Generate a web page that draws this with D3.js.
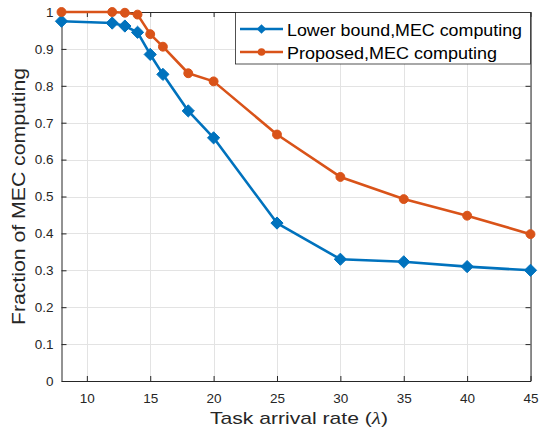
<!DOCTYPE html>
<html>
<head>
<meta charset="utf-8">
<script src="https://cdn.jsdelivr.net/npm/d3@7"></script>
<style>
  html, body { margin: 0; padding: 0; background: #fff; }
  svg { display: block; font-family: "Liberation Sans", Arial, Helvetica, sans-serif; }
</style>
</head>
<body>
<svg id="chart" width="539" height="433"></svg>
<script>
// Task arrival rates and the fraction of tasks computed at the MEC server
const arrivalRates = [8, 12, 13, 14, 15, 16, 18, 20, 25, 30, 35, 40, 45];
const lowerBound   = [0.975, 0.970, 0.962, 0.945, 0.885, 0.831, 0.732, 0.659, 0.428, 0.330, 0.323, 0.310, 0.300];
const proposed     = [1.000, 1.000, 0.998, 0.993, 0.940, 0.906, 0.834, 0.812, 0.668, 0.553, 0.493, 0.448, 0.398];
const xTicks = [10, 15, 20, 25, 30, 35, 40, 45];
const yTicks = [0, 0.1, 0.2, 0.3, 0.4, 0.5, 0.6, 0.7, 0.8, 0.9, 1];
const seriesNames = ["Lower bound,MEC computing", "Proposed,MEC computing"];
const seriesColors = ["#0072BD", "#D95319"];

const svg = d3.select("#chart");
const plotLeft = 61.5, plotRight = 530.5, plotTop = 12, plotBottom = 381;

const x = d3.scaleLinear().domain([8, 45]).range([plotLeft, plotRight]);
const y = d3.scaleLinear().domain([0, 1]).range([plotBottom, plotTop]);

// grid
const grid = svg.append("g").attr("stroke", "#e3e3e3").attr("stroke-width", 1);
grid.selectAll("line.gx").data(xTicks).join("line")
  .attr("x1", d => Math.round(x(d)) + 0.5).attr("x2", d => Math.round(x(d)) + 0.5)
  .attr("y1", plotTop).attr("y2", plotBottom);
grid.selectAll("line.gy").data(yTicks).join("line")
  .attr("y1", d => Math.round(y(d)) + 0.5).attr("y2", d => Math.round(y(d)) + 0.5)
  .attr("x1", plotLeft).attr("x2", plotRight);

// axes
const axisColor = "#262626";
const xAxis = svg.append("g").attr("transform", `translate(0,${plotBottom})`)
  .call(d3.axisBottom(x).tickValues(xTicks).tickSize(-5).tickPadding(12).tickSizeOuter(0));
const yAxis = svg.append("g").attr("transform", `translate(${plotLeft},0)`)
  .call(d3.axisLeft(y).tickValues(yTicks).tickSize(-5).tickPadding(8).tickSizeOuter(0)
    .tickFormat(d => d === 0 || d === 1 ? String(d) : d3.format(".1f")(d)));
const xAxisTop = svg.append("g").attr("transform", `translate(0,${plotTop})`)
  .call(d3.axisTop(x).tickValues(xTicks).tickSize(-5).tickFormat("").tickSizeOuter(0));
const yAxisRight = svg.append("g").attr("transform", `translate(${plotRight},0)`)
  .call(d3.axisRight(y).tickValues(yTicks).tickSize(-5).tickFormat("").tickSizeOuter(0));

[xAxis, yAxis, xAxisTop, yAxisRight].forEach(g => {
  g.select(".domain").attr("stroke", axisColor).attr("stroke-width", 1);
  g.selectAll(".tick line").attr("stroke", axisColor);
  g.selectAll(".tick text").attr("fill", axisColor).attr("font-size", 13.5)
    .attr("font-family", "Liberation Sans, Arial, sans-serif");
});

// series lines and markers
const seriesData = [lowerBound, proposed];
const line = d3.line().x((d, i) => x(arrivalRates[i])).y(d => y(d));

seriesData.forEach((vals, s) => {
  svg.append("path").datum(vals)
    .attr("d", line).attr("fill", "none")
    .attr("stroke", seriesColors[s]).attr("stroke-width", 2.6)
    .attr("stroke-linejoin", "round");
  const sym = s === 0 ? d3.symbolDiamond2 : d3.symbolCircle;
  const size = s === 0 ? 95 : 62;
  svg.append("g").selectAll("path").data(vals).join("path")
    .attr("transform", (d, i) => `translate(${x(arrivalRates[i])},${y(d)})`)
    .attr("d", d3.symbol(sym, size))
    .attr("fill", seriesColors[s]).attr("stroke", seriesColors[s]).attr("stroke-width", 1);
});

// legend
const legend = svg.append("g");
legend.append("rect")
  .attr("x", 235.5).attr("y", 12.5).attr("width", 295).attr("height", 51.5)
  .attr("fill", "#fff").attr("stroke", "#262626").attr("stroke-width", 0.8);
const legendRows = [29, 52];
const legendWidths = [235, 210];
seriesNames.forEach((name, s) => {
  const cy = legendRows[s];
  legend.append("line").attr("x1", 240).attr("x2", 283).attr("y1", cy).attr("y2", cy)
    .attr("stroke", seriesColors[s]).attr("stroke-width", 2.6);
  legend.append("path")
    .attr("transform", `translate(261.5,${cy})`)
    .attr("d", d3.symbol(s === 0 ? d3.symbolDiamond2 : d3.symbolCircle, s === 0 ? 60 : 45))
    .attr("fill", seriesColors[s]);
  legend.append("text").attr("x", 287).attr("y", cy + 6.5)
    .attr("font-size", 17).attr("fill", "#000")
    .attr("textLength", legendWidths[s]).attr("lengthAdjust", "spacingAndGlyphs")
    .text(name);
});

// axis titles
const xt = svg.append("text")
  .attr("x", 299).attr("y", 424)
  .attr("text-anchor", "middle").attr("font-size", 17).attr("fill", axisColor)
  .attr("textLength", 178).attr("lengthAdjust", "spacingAndGlyphs");
xt.append("tspan").text("Task arrival rate (");
xt.append("tspan").attr("font-style", "italic").attr("font-family", "Liberation Serif, serif").text("λ");
xt.append("tspan").text(")");

svg.append("text")
  .attr("transform", `translate(25,${(plotTop + plotBottom) / 2}) rotate(-90)`)
  .attr("text-anchor", "middle").attr("font-size", 18).attr("fill", axisColor)
  .attr("textLength", 257).attr("lengthAdjust", "spacingAndGlyphs")
  .text("Fraction of MEC computing");
</script>
</body>
</html>
